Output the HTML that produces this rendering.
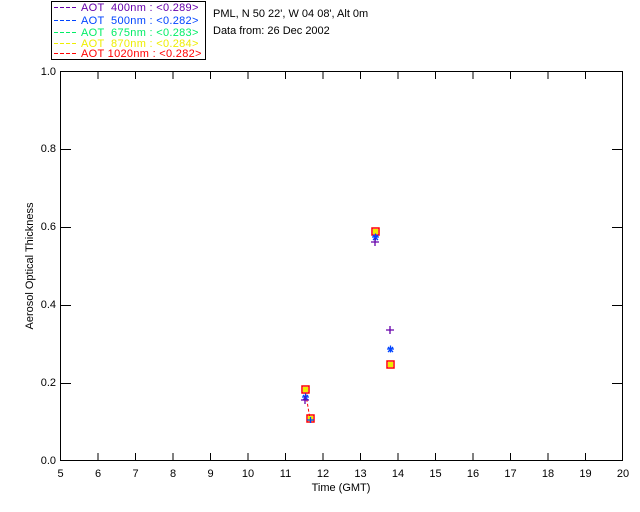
<!DOCTYPE html>
<html><head><style>body{margin:0;background:#fff}svg{display:block}text{font-family:"Liberation Sans",sans-serif;font-size:11px}</style></head><body>
<svg width="640" height="512" xmlns="http://www.w3.org/2000/svg">
<rect x="0" y="0" width="640" height="512" fill="#fff"/>
<rect x="51.5" y="1.5" width="154" height="58" fill="none" stroke="#000"/>
<g stroke-dasharray="4,2" stroke-width="1">
<line x1="54" y1="7.5" x2="76" y2="7.5" stroke="#6600aa"/>
<line x1="54" y1="20.5" x2="76" y2="20.5" stroke="#0044ff"/>
<line x1="54" y1="32.5" x2="76" y2="32.5" stroke="#00ee66"/>
<line x1="54" y1="43.5" x2="76" y2="43.5" stroke="#eeee00"/>
<line x1="54" y1="53.5" x2="76" y2="53.5" stroke="#ff0000"/>
</g>
<g letter-spacing="0.3">
<text x="81" y="11" fill="#6600aa" xml:space="preserve">AOT  400nm : &lt;0.289&gt;</text>
<text x="81" y="24" fill="#0044ff" xml:space="preserve">AOT  500nm : &lt;0.282&gt;</text>
<text x="81" y="36" fill="#00ee66" xml:space="preserve">AOT  675nm : &lt;0.283&gt;</text>
<text x="81" y="47" fill="#eeee00" xml:space="preserve">AOT  870nm : &lt;0.284&gt;</text>
<text x="81" y="57" fill="#ff0000" xml:space="preserve">AOT 1020nm : &lt;0.282&gt;</text>
</g>
<text x="213" y="17" fill="#000">PML, N 50 22', W 04 08', Alt 0m</text>
<text x="213" y="34" fill="#000">Data from: 26 Dec 2002</text>
<rect x="60.5" y="71.5" width="562" height="389" fill="none" stroke="#000"/>
<g stroke="#000">
<line x1="60" y1="383.5" x2="71" y2="383.5"/><line x1="60" y1="305.5" x2="71" y2="305.5"/><line x1="60" y1="227.5" x2="71" y2="227.5"/><line x1="60" y1="149.5" x2="71" y2="149.5"/>
<line x1="612" y1="383.5" x2="622" y2="383.5"/><line x1="612" y1="305.5" x2="622" y2="305.5"/><line x1="612" y1="227.5" x2="622" y2="227.5"/><line x1="612" y1="149.5" x2="622" y2="149.5"/>
</g>
<g id="xt" stroke="#000"></g>
<g font-size="10" text-anchor="end">
<text x="56" y="464">0.0</text><text x="56" y="386">0.2</text><text x="56" y="308">0.4</text><text x="56" y="230">0.6</text><text x="56" y="152">0.8</text><text x="56" y="75">1.0</text>
</g>
<g font-size="10" text-anchor="middle" id="xl"></g>
<script>
var xt=document.getElementById('xt'),xl=document.getElementById('xl'),ns='http://www.w3.org/2000/svg';
for(var h=5;h<=20;h++){var x=60.5+(h-5)*37.5;
if(h>5&&h<20){var l=document.createElementNS(ns,'line');l.setAttribute('x1',x);l.setAttribute('x2',x);l.setAttribute('y1',453);l.setAttribute('y2',461);xt.appendChild(l);
var l2=document.createElementNS(ns,'line');l2.setAttribute('x1',x);l2.setAttribute('x2',x);l2.setAttribute('y1',71);l2.setAttribute('y2',79);xt.appendChild(l2);}
var t=document.createElementNS(ns,'text');t.setAttribute('x',x);t.setAttribute('y',477);t.textContent=h;xl.appendChild(t);}
</script>
<text x="341" y="491" font-size="10" text-anchor="middle">Time (GMT)</text>
<text transform="translate(33,266) rotate(-90)" font-size="10" text-anchor="middle">Aerosol Optical Thickness</text>
<line x1="305" y1="389" x2="310" y2="419" stroke="#ff0000" stroke-dasharray="3,2"/>
<g fill="#eeee00"><rect x="303" y="387" width="5" height="5"/><rect x="388" y="362" width="5" height="5"/><rect x="308" y="416" width="5" height="5"/><rect x="373" y="229" width="5" height="5"/></g>
<g fill="none" stroke-width="1.5">
<rect x="302" y="386" width="7" height="7" stroke="#ff0000"/><rect x="307" y="415" width="7" height="7" stroke="#ff0000"/>
<rect x="372" y="228" width="7" height="7" stroke="#ff0000"/><rect x="387" y="361" width="7" height="7" stroke="#ff0000"/>
</g>
<g stroke="#0044ff" stroke-width="1.3"><path d="M302 397h7M305.5 393.5v7M303 395l5 5M308 395l-5 5"/><path d="M372 237h7M375.5 233.5v7M373 235l5 5M378 235l-5 5"/><path d="M387 349h7M390.5 345.5v7M388 347l5 5M393 347l-5 5"/><path d="M307 420h7M310.5 417v6"/></g>
<g stroke="#6600aa" stroke-width="1.3"><path d="M301 400h8M305 396v8"/><path d="M371 242h8M375 238v8"/><path d="M386 330h8M390 326v8"/></g>
</svg>
</body></html>
